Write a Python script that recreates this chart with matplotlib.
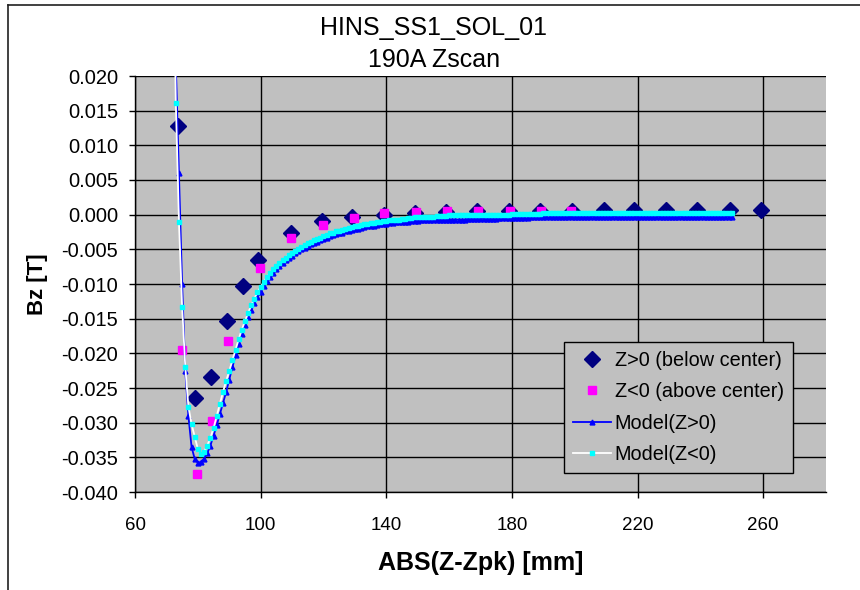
import matplotlib
matplotlib.use("Agg")
import matplotlib.pyplot as plt
from matplotlib.lines import Line2D
import numpy as np

plt.rcParams['font.family'] = ['Liberation Sans', 'DejaVu Sans']
plt.rcParams['axes.unicode_minus'] = False

# ---------------- data ----------------
title_line1 = "HINS_SS1_SOL_01"
title_line2 = "190A Zscan"
x_label = "ABS(Z-Zpk) [mm]"
y_label = "Bz [T]"

zpos_x = [73.7, 79.0, 84.3, 89.4, 94.3, 99.2, 109.7, 119.5, 129.2, 139.3, 149.0,
          159.0, 169.0, 179.0, 189.0, 199.0, 209.3, 219.0, 229.0, 239.0, 249.5, 259.3]
zpos_y = [0.0128, -0.0264, -0.0234, -0.0153, -0.0103, -0.0065, -0.0027, -0.0009,
          -0.0003, 0.0000, 0.0003, 0.0004, 0.0005, 0.0005, 0.0006, 0.0006, 0.0007,
          0.0007, 0.0007, 0.0007, 0.0007, 0.0007]

zneg_x = [74.9, 79.8, 84.4, 89.5, 99.7, 109.6, 119.8, 129.8, 139.4, 149.4, 159.4,
          169.3, 179.3, 189.2, 198.8]
zneg_y = [-0.0195, -0.0374, -0.0297, -0.0182, -0.0077, -0.0034, -0.0015, -0.0005,
          0.0002, 0.0004, 0.0005, 0.0006, 0.0006, 0.0006, 0.0006]

model_x = list(range(72, 251))

model_pos_y = [
    0.0500, 0.0215, 0.0060, -0.0100, -0.0225, -0.0290, -0.0335, -0.0352,
    -0.0358, -0.0357, -0.0352, -0.0344, -0.0333, -0.0319, -0.0304, -0.0288,
    -0.0272, -0.0256, -0.0238, -0.0220, -0.0203, -0.0187, -0.0172, -0.0159,
    -0.0148, -0.0138, -0.0128, -0.0119, -0.0111, -0.0103, -0.0096, -0.0090,
    -0.0084, -0.0079, -0.0074, -0.0070, -0.0066, -0.0062, -0.0059, -0.0056,
    -0.0053, -0.0050, -0.0048, -0.0045, -0.0043, -0.0041, -0.0039, -0.0037,
    -0.0035, -0.0033, -0.0031, -0.0030, -0.0028, -0.0027, -0.0026, -0.0024,
    -0.0023, -0.0022, -0.0021, -0.0020, -0.0019, -0.0018, -0.0017, -0.0016,
    -0.0016, -0.0015, -0.0014, -0.0014, -0.0013, -0.0012, -0.0012, -0.0011,
    -0.0011, -0.0010, -0.0010, -0.0010, -0.0009, -0.0009, -0.0009, -0.0008,
    -0.0008, -0.0008, -0.0008, -0.0008, -0.0007, -0.0007, -0.0007, -0.0007,
    -0.0007, -0.0007, -0.0007, -0.0007, -0.0007, -0.0007, -0.0006, -0.0006,
    -0.0006, -0.0006, -0.0006, -0.0006, -0.0006, -0.0006, -0.0006, -0.0006,
    -0.0005, -0.0005, -0.0005, -0.0005, -0.0005, -0.0005, -0.0005, -0.0005,
    -0.0005, -0.0005, -0.0004, -0.0004, -0.0004, -0.0004, -0.0004, -0.0004,
    -0.0004, -0.0004, -0.0004, -0.0004, -0.0004, -0.0004, -0.0004, -0.0004,
    -0.0004, -0.0003, -0.0003, -0.0003, -0.0003, -0.0003, -0.0003, -0.0003,
    -0.0003, -0.0003, -0.0003, -0.0003, -0.0003, -0.0003, -0.0003, -0.0003,
    -0.0003, -0.0003, -0.0003, -0.0003, -0.0003, -0.0003, -0.0003, -0.0003,
    -0.0003, -0.0003, -0.0003, -0.0003, -0.0003, -0.0003, -0.0003, -0.0003,
    -0.0003, -0.0003, -0.0003, -0.0003, -0.0003, -0.0003, -0.0003, -0.0003,
    -0.0003, -0.0003, -0.0003, -0.0003, -0.0003, -0.0003, -0.0003, -0.0003,
    -0.0003, -0.0003, -0.0003,
]

model_neg_y = [
    0.0450, 0.0161, -0.0011, -0.0133, -0.0219, -0.0277, -0.0302, -0.0320,
    -0.0338, -0.0345, -0.0342, -0.0333, -0.0322, -0.0308, -0.0291, -0.0273,
    -0.0256, -0.0240, -0.0226, -0.0210, -0.0195, -0.0180, -0.0166, -0.0154,
    -0.0142, -0.0131, -0.0121, -0.0112, -0.0104, -0.0097, -0.0090, -0.0084,
    -0.0079, -0.0074, -0.0070, -0.0066, -0.0062, -0.0058, -0.0055, -0.0052,
    -0.0049, -0.0046, -0.0044, -0.0041, -0.0039, -0.0037, -0.0035, -0.0033,
    -0.0031, -0.0029, -0.0027, -0.0026, -0.0024, -0.0023, -0.0022, -0.0020,
    -0.0019, -0.0018, -0.0017, -0.0016, -0.0015, -0.0014, -0.0013, -0.0012,
    -0.0012, -0.0011, -0.0010, -0.0009, -0.0009, -0.0008, -0.0008, -0.0007,
    -0.0007, -0.0006, -0.0006, -0.0005, -0.0005, -0.0004, -0.0004, -0.0004,
    -0.0003, -0.0003, -0.0003, -0.0003, -0.0002, -0.0002, -0.0002, -0.0002,
    -0.0001, -0.0001, -0.0001, -0.0001, -0.0001, -0.0001, -0.0001, -0.0001,
    -0.0001, -0.0001, 0.0000, 0.0000, 0.0000, 0.0000, 0.0000, 0.0000,
    0.0000, 0.0000, 0.0000, 0.0000, 0.0001, 0.0001, 0.0001, 0.0001,
    0.0001, 0.0001, 0.0001, 0.0001, 0.0001, 0.0001, 0.0002, 0.0002,
    0.0002, 0.0002, 0.0002, 0.0002, 0.0002, 0.0002, 0.0002, 0.0002,
    0.0002, 0.0002, 0.0002, 0.0002, 0.0002, 0.0002, 0.0002, 0.0002,
    0.0002, 0.0002, 0.0002, 0.0002, 0.0002, 0.0002, 0.0002, 0.0002,
    0.0002, 0.0002, 0.0002, 0.0002, 0.0002, 0.0002, 0.0002, 0.0002,
    0.0002, 0.0002, 0.0002, 0.0002, 0.0002, 0.0002, 0.0002, 0.0002,
    0.0002, 0.0002, 0.0002, 0.0002, 0.0002, 0.0002, 0.0002, 0.0002,
    0.0002, 0.0002, 0.0002, 0.0002, 0.0002, 0.0002, 0.0002, 0.0002,
    0.0002, 0.0002, 0.0002,
]

series_labels = ["Z>0 (below center)", "Z<0 (above center)", "Model(Z>0)", "Model(Z<0)"]
x_ticks = [60, 100, 140, 180, 220, 260]
y_ticks = [0.020, 0.015, 0.010, 0.005, 0.000, -0.005, -0.010, -0.015, -0.020,
           -0.025, -0.030, -0.035, -0.040]

# ---------------- figure ----------------
W, H = 860, 590
fig = plt.figure(figsize=(W / 100, H / 100), dpi=100)
fig.patch.set_facecolor('white')

ax = fig.add_axes([135 / W, 1 - 492 / H, (826 - 135) / W, (492 - 76) / H])
ax.set_facecolor('#C0C0C0')

ax.plot(zpos_x, zpos_y, linestyle='none', marker='D', markersize=8,
        color='#000080', markeredgecolor='#000080', label=series_labels[0], zorder=3)
ax.plot(zneg_x, zneg_y, linestyle='none', marker='s', markersize=6.3,
        color='#FF00FF', markeredgecolor='#FF00FF', label=series_labels[1], zorder=4)
ax.plot(model_x[:len(model_pos_y)], model_pos_y, color='#0000FF', linewidth=1.3,
        marker='^', markersize=3.5, markerfacecolor='#0000FF',
        markeredgecolor='#0000FF', label=series_labels[2], zorder=5)
ax.plot(model_x[:len(model_neg_y)], model_neg_y, color='white', linewidth=1.3,
        marker='s', markersize=2.6, markerfacecolor='#00FFFF',
        markeredgecolor='#00FFFF', label=series_labels[3], zorder=6)

ax.set_xlim(60, 280)
ax.set_ylim(-0.040, 0.020)
ax.set_xticks(x_ticks)
ax.set_yticks(y_ticks)
ax.set_yticklabels([f"{v:.3f}" for v in y_ticks])
ax.set_xticklabels([str(v) for v in x_ticks])
ax.grid(True, color='black', linewidth=1.0)
ax.set_axisbelow(True)
for s in ['top', 'right']:
    ax.spines[s].set_visible(False)
for s in ['left', 'bottom']:
    ax.spines[s].set_color('black')
    ax.spines[s].set_linewidth(1.0)
ax.tick_params(axis='both', direction='out', length=4, width=1, colors='black')
ax.tick_params(axis='y', labelsize=14.5, pad=8)
ax.tick_params(axis='x', labelsize=13.5, pad=14)

ax.set_xlabel(x_label, fontsize=18, fontweight='bold', labelpad=12)
ax.set_ylabel(y_label, fontsize=16, fontweight='bold', labelpad=9.5)

fig.text(434 / W, 1 - 28 / H, title_line1, ha='center', va='center', fontsize=18)
fig.text(434 / W, 1 - 60 / H, title_line2, ha='center', va='center', fontsize=18)

leg = ax.legend(loc='lower left', bbox_to_anchor=((564 - 135) / 691, (492 - 473) / 416,
                (793 - 564) / 691, (473 - 337) / 416), mode='expand',
                frameon=True, fancybox=False, fontsize=14.3, borderaxespad=0,
                handlelength=1.9, handletextpad=0.2, labelspacing=0.62,
                borderpad=0.45)
leg.get_frame().set_facecolor('#C0C0C0')
leg.get_frame().set_edgecolor('black')
leg.get_frame().set_linewidth(1.0)
leg.get_frame().set_alpha(1)

# chart area border (left and top visible)
fig.add_artist(Line2D([8 / W, 8 / W], [0, 1 - 5 / H], color='#202020', linewidth=1.2,
                      transform=fig.transFigure))
fig.add_artist(Line2D([8 / W, 1], [1 - 5 / H, 1 - 5 / H], color='#202020', linewidth=1.2,
                      transform=fig.transFigure))

fig.savefig('out.png', dpi=100)
